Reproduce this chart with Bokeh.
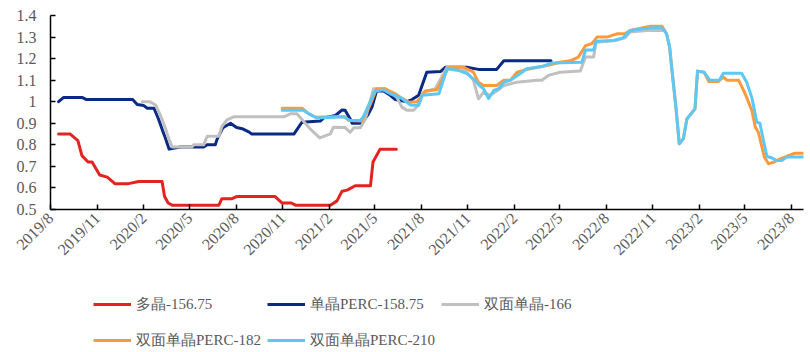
import pandas as pd
from bokeh.plotting import figure
from bokeh.layouts import column
from bokeh.models import FixedTicker, Legend, LegendItem, Range1d
from bokeh.embed import file_html
from bokeh.resources import INLINE

# ---------------- data ----------------
series_names = ["多晶-156.75", "单晶PERC-158.75", "双面单晶-166",
                "双面单晶PERC-182", "双面单晶PERC-210"]

dates_poly = ["2019-08-17", "2019-09-09", "2019-09-24", "2019-10-02", "2019-10-14",
              "2019-10-22", "2019-11-06", "2019-11-21", "2019-12-06", "2020-01-02",
              "2020-01-22", "2020-03-08", "2020-03-13", "2020-03-20", "2020-03-28",
              "2020-06-28", "2020-07-04", "2020-07-24", "2020-08-02", "2020-10-17",
              "2020-10-31", "2020-11-18", "2020-11-26", "2021-02-03", "2021-02-16",
              "2021-02-26", "2021-03-08", "2021-03-24", "2021-04-23", "2021-04-28",
              "2021-05-12", "2021-06-13"]
vals_poly = [0.85, 0.85, 0.82, 0.75, 0.72,
             0.72, 0.66, 0.65, 0.62, 0.62,
             0.63, 0.63, 0.56, 0.53, 0.52,
             0.52, 0.55, 0.55, 0.56, 0.56,
             0.53, 0.53, 0.52, 0.52, 0.54,
             0.585, 0.59, 0.61, 0.61, 0.72,
             0.78, 0.78]

dates_mono = ["2019-08-17", "2019-08-27", "2019-10-02", "2019-10-11", "2020-01-10",
              "2020-01-19", "2020-02-01", "2020-02-08", "2020-02-21", "2020-03-01",
              "2020-03-09", "2020-03-14", "2020-03-22", "2020-04-13", "2020-05-29",
              "2020-06-05", "2020-06-21", "2020-06-24", "2020-07-06", "2020-07-21",
              "2020-08-02", "2020-08-13", "2020-08-26", "2020-09-01", "2020-11-23",
              "2020-12-09", "2021-01-14", "2021-01-21", "2021-02-13", "2021-02-26",
              "2021-03-04", "2021-03-14", "2021-03-18", "2021-04-06", "2021-04-19",
              "2021-04-26", "2021-05-05", "2021-05-19", "2021-06-01", "2021-06-11",
              "2021-07-04", "2021-07-14", "2021-07-27", "2021-08-12", "2021-09-08",
              "2021-09-18", "2021-10-30", "2021-11-22", "2021-12-28", "2022-01-11",
              "2022-04-14"]
vals_mono = [1.00, 1.02, 1.02, 1.01, 1.01,
             0.987, 0.982, 0.97, 0.97, 0.92,
             0.866, 0.835, 0.78, 0.79, 0.79,
             0.80, 0.80, 0.823, 0.88, 0.90,
             0.88, 0.875, 0.86, 0.85, 0.85,
             0.905, 0.91, 0.925, 0.936, 0.962,
             0.96, 0.92, 0.90, 0.90, 0.944,
             0.975, 1.05, 1.05, 1.03, 1.01,
             1.00, 1.01, 1.03, 1.137, 1.14,
             1.16, 1.16, 1.15, 1.15, 1.19,
             1.19]

dates_bf166 = ["2020-01-29", "2020-02-13", "2020-02-24", "2020-03-05", "2020-03-15",
               "2020-03-21", "2020-03-28", "2020-05-06", "2020-05-09", "2020-05-29",
               "2020-06-05", "2020-06-28", "2020-07-04", "2020-07-14", "2020-07-27",
               "2020-11-03", "2020-11-16", "2020-11-29", "2020-12-25", "2021-01-13",
               "2021-02-03", "2021-02-09", "2021-03-04", "2021-03-14", "2021-03-21",
               "2021-04-03", "2021-04-13", "2021-04-29", "2021-05-22", "2021-06-14",
               "2021-06-24", "2021-07-04", "2021-07-17", "2021-07-24", "2021-08-06",
               "2021-08-29", "2021-09-21", "2021-10-17", "2021-10-30", "2021-11-12",
               "2021-11-22", "2021-12-02", "2021-12-15", "2021-12-28", "2022-01-11",
               "2022-02-05", "2022-03-17", "2022-03-27", "2022-04-09", "2022-05-02",
               "2022-06-11", "2022-06-21", "2022-07-07", "2022-07-12", "2022-08-19",
               "2022-09-07", "2022-09-17", "2022-10-20", "2022-11-22"]
vals_bf166 = [1.00, 1.00, 0.985, 0.936, 0.874,
              0.83, 0.79, 0.79, 0.80, 0.80,
              0.84, 0.84, 0.885, 0.916, 0.93,
              0.93, 0.944, 0.944, 0.874, 0.832,
              0.851, 0.882, 0.88, 0.858, 0.879,
              0.879, 0.92, 1.06, 1.06, 1.02,
              0.975, 0.96, 0.96, 0.978, 1.044,
              1.06, 1.16, 1.16, 1.137, 1.10,
              1.013, 1.044, 1.03, 1.05, 1.075,
              1.09, 1.10, 1.10, 1.122, 1.137,
              1.142, 1.207, 1.207, 1.276, 1.284,
              1.296, 1.323, 1.33, 1.33]

dates_bf182 = ["2020-10-31", "2020-12-09", "2020-12-19", "2021-01-04", "2021-02-09",
               "2021-03-04", "2021-03-11", "2021-04-06", "2021-04-23", "2021-05-05",
               "2021-05-22", "2021-06-11", "2021-06-21", "2021-07-07", "2021-07-24",
               "2021-08-09", "2021-09-01", "2021-09-24", "2021-10-24", "2021-11-12",
               "2021-11-22", "2021-12-02", "2021-12-28", "2022-01-11", "2022-01-24",
               "2022-02-06", "2022-02-22", "2022-04-06", "2022-05-02", "2022-05-22",
               "2022-06-07", "2022-06-21", "2022-07-04", "2022-07-14", "2022-08-02",
               "2022-08-22", "2022-09-07", "2022-09-17", "2022-10-27", "2022-11-19",
               "2022-11-28", "2022-12-04", "2022-12-08", "2022-12-17", "2022-12-23",
               "2022-12-31", "2023-01-07", "2023-01-23", "2023-01-28", "2023-02-10",
               "2023-02-19", "2023-03-10", "2023-03-20", "2023-03-27", "2023-04-19",
               "2023-05-02", "2023-05-15", "2023-05-22", "2023-05-28", "2023-06-09",
               "2023-06-17", "2023-06-27", "2023-07-10", "2023-07-26", "2023-08-08",
               "2023-08-25"]
vals_bf182 = [0.97, 0.97, 0.95, 0.928, 0.93,
              0.93, 0.913, 0.91, 0.99, 1.06,
              1.06, 1.037, 1.02, 0.998, 1.00,
              1.05, 1.055, 1.16, 1.16, 1.137,
              1.09, 1.075, 1.075, 1.10, 1.10,
              1.137, 1.148, 1.168, 1.183, 1.19,
              1.207, 1.26, 1.27, 1.30, 1.30,
              1.315, 1.315, 1.33, 1.35, 1.35,
              1.315, 1.253, 1.16, 0.96, 0.805,
              0.828, 0.92, 0.967, 1.142, 1.137,
              1.094, 1.094, 1.114, 1.10, 1.10,
              1.037, 0.96, 0.882, 0.858, 0.743,
              0.712, 0.72, 0.735, 0.75, 0.761,
              0.761]

dates_bf210 = ["2020-10-31", "2020-12-12", "2020-12-22", "2021-01-08", "2021-03-01",
               "2021-03-14", "2021-04-03", "2021-04-09", "2021-05-02", "2021-05-19",
               "2021-06-01", "2021-06-21", "2021-07-01", "2021-07-11", "2021-07-27",
               "2021-08-03", "2021-09-05", "2021-09-21", "2021-10-14", "2021-10-30",
               "2021-11-15", "2021-11-24", "2021-12-02", "2021-12-12", "2021-12-22",
               "2022-01-01", "2022-01-11", "2022-01-24", "2022-02-12", "2022-02-25",
               "2022-03-27", "2022-04-16", "2022-06-14", "2022-06-21", "2022-07-07",
               "2022-07-12", "2022-08-15", "2022-09-03", "2022-09-17", "2022-10-13",
               "2022-11-02", "2022-11-19", "2022-11-28", "2022-12-04", "2022-12-08",
               "2022-12-17", "2022-12-23", "2022-12-31", "2023-01-07", "2023-01-23",
               "2023-01-28", "2023-02-10", "2023-02-21", "2023-03-12", "2023-03-20",
               "2023-04-25", "2023-05-05", "2023-05-15", "2023-05-25", "2023-05-31",
               "2023-06-07", "2023-06-14", "2023-06-23", "2023-07-03", "2023-07-13",
               "2023-07-23", "2023-08-25"]
vals_bf210 = [0.96, 0.96, 0.944, 0.925, 0.93,
              0.913, 0.913, 0.93, 1.05, 1.055,
              1.037, 1.02, 1.002, 0.985, 0.982,
              1.03, 1.037, 1.153, 1.145, 1.13,
              1.10, 1.075, 1.06, 1.015, 1.052,
              1.06, 1.09, 1.10, 1.13, 1.153,
              1.163, 1.18, 1.183, 1.24, 1.24,
              1.28, 1.284, 1.296, 1.33, 1.338,
              1.343, 1.343, 1.315, 1.253, 1.16,
              0.96, 0.805, 0.828, 0.92, 0.967,
              1.142, 1.137, 1.10, 1.10, 1.132,
              1.132, 1.09, 1.02, 0.905, 0.90,
              0.82, 0.746, 0.74, 0.727, 0.727,
              0.743, 0.743]

tick_dates = ["2019-08-01", "2019-11-01", "2020-02-01", "2020-05-01", "2020-08-01",
              "2020-11-01", "2021-02-01", "2021-05-01", "2021-08-01", "2021-11-01",
              "2022-02-01", "2022-05-01", "2022-08-01", "2022-11-01", "2023-02-01",
              "2023-05-01", "2023-08-01"]
tick_labels = ["2019/8", "2019/11", "2020/2", "2020/5", "2020/8", "2020/11",
               "2021/2", "2021/5", "2021/8", "2021/11", "2022/2", "2022/5",
               "2022/8", "2022/11", "2023/2", "2023/5", "2023/8"]
y_ticks = [0.5, 0.6, 0.7, 0.8, 0.9, 1.0, 1.1, 1.2, 1.3, 1.4]
y_tick_labels = ["0.5", "0.6", "0.7", "0.8", "0.9", "1", "1.1", "1.2", "1.3", "1.4"]

colors = ["#E3231F", "#0B2A85", "#C0C0C0", "#FF9A3C", "#5BC8F5"]

# ---------------- main figure ----------------
def ms(s):
    return pd.Timestamp(s).value / 1e6

FONT = "'Liberation Serif'"
LABEL_COLOR = "#595959"
x_start, x_end = ms("2019-08-01"), ms("2023-08-25")

p = figure(width=810, height=270, x_axis_type="datetime",
           x_range=Range1d(x_start, x_end),
           y_range=Range1d(0.5, 1.4),
           output_backend="svg", toolbar_location=None,
           min_border_left=50, min_border_right=7,
           min_border_top=15, min_border_bottom=61)
p.outline_line_color = None
p.xgrid.grid_line_color = None
p.ygrid.grid_line_color = None

all_data = [(dates_poly, vals_poly), (dates_mono, vals_mono), (dates_bf166, vals_bf166),
            (dates_bf182, vals_bf182), (dates_bf210, vals_bf210)]
for (d, v), c in zip(all_data, colors):
    p.line(pd.to_datetime(d), v, line_color=c, line_width=3,
           line_join="round", line_cap="round")

# x axis
xt = [ms(t) for t in tick_dates]
p.xaxis.ticker = FixedTicker(ticks=xt)
p.xaxis.major_label_overrides = {t: lab for t, lab in zip(xt, tick_labels)}
p.xaxis.major_label_orientation = 0.785398
p.xaxis.minor_tick_line_color = None
p.xaxis.major_tick_in = 5
p.xaxis.major_tick_out = 0
p.xaxis.major_label_standoff = 6

# y axis
p.yaxis.ticker = FixedTicker(ticks=y_ticks)
p.yaxis.major_label_overrides = {t: lab for t, lab in zip(y_ticks, y_tick_labels)}
p.yaxis.minor_tick_line_color = None
p.yaxis.major_tick_in = 5
p.yaxis.major_tick_out = 0
p.yaxis.major_label_standoff = 14

for ax in (p.xaxis, p.yaxis):
    ax.axis_line_color = "black"
    ax.axis_line_width = 1.5
    ax.major_tick_line_color = "black"
    ax.major_tick_line_width = 1.5
    ax.major_label_text_font = FONT
    ax.major_label_text_font_size = "16px"
    ax.major_label_text_color = LABEL_COLOR

# ---------------- legend strip (keys drawn from the same series, out of view) ----------------
lg = figure(width=810, height=82, x_axis_type="datetime", output_backend="svg",
            toolbar_location=None, x_axis_location=None, y_axis_location=None,
            x_range=Range1d(x_start, x_end), y_range=Range1d(10, 11),
            min_border_left=0, min_border_right=0, min_border_top=0, min_border_bottom=0)
lg.outline_line_color = None
lg.xgrid.grid_line_color = None
lg.ygrid.grid_line_color = None
keys = [lg.line(pd.to_datetime(d), v, line_color=c, line_width=3)
        for (d, v), c in zip(all_data, colors)]

legend = Legend(items=[LegendItem(label=n, renderers=[r]) for n, r in zip(series_names, keys)],
                location=(43, -3), orientation="horizontal", ncols=3,
                glyph_width=38, glyph_height=30, label_height=30,
                label_standoff=5, spacing=6, padding=0, margin=0,
                border_line_color=None, background_fill_alpha=0,
                label_text_font=FONT, label_text_font_size="15px",
                label_text_color=LABEL_COLOR)
lg.add_layout(legend, "center")

open("out.html", "w").write(file_html(column(p, lg, spacing=0), INLINE))
